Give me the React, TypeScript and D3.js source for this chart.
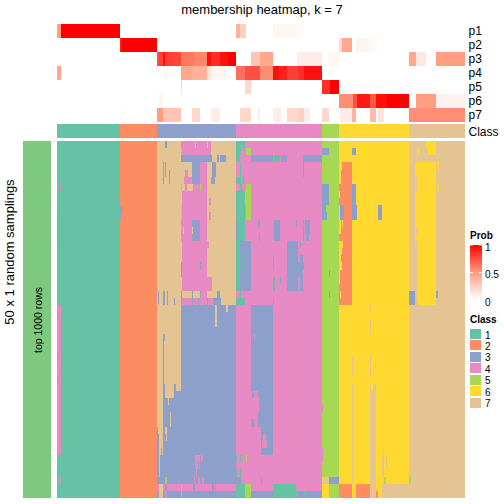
import React from "react";
import * as d3 from "d3";

const classColors = ["#66C2A5", "#FC8D62", "#8DA0CB", "#E78AC3", "#A6D854", "#FFD92F", "#E5C494"];
const classLabels = ["1", "2", "3", "4", "5", "6", "7"];
const probNames = ["p1", "p2", "p3", "p4", "p5", "p6", "p7"];

// [firstColumn, lastColumn, class]
const classBlocks: number[][] = [
  [0, 63, 1], [63, 100, 2], [100, 179, 3], [179, 265, 4], [265, 282, 5], [282, 352, 6], [352, 408, 7],
];

// [firstColumn, lastColumn, probability]
const p1 = [[0, 4, 0.5], [4, 63, 1], [179, 183, 0.4], [183, 189, 0.25], [216, 240, 0.05], [240, 247, 0.02]];
const p2 = [[63, 65, 0.9], [65, 100, 1], [282, 285, 0.2], [285, 295, 0.45], [299, 312, 0.06], [312, 320, 0.03]];
const p3 = [[100, 102, 0.75], [102, 106, 0.8], [106, 108, 0.95], [108, 116, 0.8], [116, 124, 0.78], [124, 137, 0.62], [137, 150, 0.58], [150, 154, 0.95], [154, 163, 0.85], [163, 171, 0.95], [171, 179, 1], [194, 203, 0.3], [203, 216, 0.45], [240, 265, 0.1], [271, 282, 0.04], [352, 359, 0.45], [359, 369, 0.12], [379, 408, 0.5]];
const p4 = [[0, 4, 0.45], [108, 110, 0.05], [124, 135, 0.45], [135, 150, 0.4], [150, 154, 0.15], [154, 169, 0.05], [179, 188, 0.65], [188, 203, 0.75], [203, 216, 0.55], [216, 222, 0.95], [222, 230, 0.9], [230, 241, 0.8], [241, 247, 0.85], [247, 265, 0.95]];
const p5 = [[124, 125, 0.2], [188, 194, 0.2], [265, 273, 0.85], [273, 282, 1]];
const p6 = [[102, 106, 0.05], [282, 296, 0.55], [296, 300, 0.75], [300, 313, 0.92], [313, 319, 0.72], [319, 330, 0.95], [330, 352, 1], [359, 379, 0.5], [379, 408, 0.07]];
const p7 = [[0, 1, 0.02], [63, 65, 0.02], [100, 106, 0.5], [106, 124, 0.3], [135, 143, 0.2], [154, 163, 0.1], [183, 194, 0.2], [201, 203, 0.1], [216, 224, 0.1], [230, 241, 0.2], [241, 247, 0.25], [247, 253, 0.1], [265, 272, 0.2], [283, 295, 0.1], [295, 299, 0.4], [313, 319, 0.35], [321, 327, 0.15], [352, 408, 0.55]];
const probSeries = [p1, p2, p3, p4, p5, p6, p7];

const baseCells = classBlocks.map(([a, b, c]) => [a, b, 0, 50, c]);

// [firstColumn, lastColumn, firstRow, lastRow, class]
const leftCells = [
  [0, 1, 6, 7, 4], [3, 4, 6, 7, 4], [0, 1, 11, 14, 3], [0, 4, 23, 44, 4], [0, 1, 24, 25, 1], [0, 1, 30, 31, 1], [0, 1, 33, 34, 1],
  [0, 1, 47, 48, 4], [2, 4, 47, 48, 4], [63, 65, 9, 10, 3], [63, 64, 10, 11, 3],
];
const class3Cells = [
  [100, 124, 0, 27, 7], [100, 106, 27, 40, 7], [108, 124, 27, 28, 7], [107, 124, 28, 34, 7], [108, 117, 34, 36, 7], [119, 124, 34, 35, 7],
  [111, 112, 36, 37, 7], [113, 114, 38, 40, 7], [101, 106, 40, 41, 7], [108, 110, 40, 41, 7], [102, 106, 41, 43, 7], [109, 110, 41, 42, 7],
  [102, 104, 43, 44, 7], [105, 106, 43, 44, 7], [102, 103, 44, 47, 7], [108, 110, 47, 48, 5],
  [100, 102, 48, 49, 4], [102, 106, 48, 50, 7], [106, 108, 48, 49, 4], [110, 136, 48, 49, 4], [138, 155, 48, 49, 4], [157, 158, 48, 49, 4], [159, 179, 48, 49, 4],
  [108, 110, 49, 50, 4], [124, 125, 48, 50, 5],
  [108, 110, 0, 1, 3], [106, 107, 3, 6, 3], [108, 109, 3, 5, 3], [112, 113, 4, 6, 3], [101, 102, 21, 23, 3], [106, 108, 21, 23, 3], [110, 111, 21, 23, 3], [117, 118, 22, 23, 3],
  [124, 154, 0, 2, 4], [154, 179, 0, 2, 7], [124, 125, 1, 2, 5], [138, 139, 0, 1, 7], [150, 151, 0, 1, 7],
  [155, 160, 2, 3, 7], [162, 163, 2, 3, 7], [169, 179, 2, 3, 7],
  [124, 135, 3, 6, 7], [143, 150, 3, 6, 4], [150, 155, 3, 6, 7], [159, 179, 3, 6, 7], [158, 159, 5, 6, 7], [154, 155, 5, 6, 3],
  [128, 131, 4, 5, 4], [127, 135, 5, 6, 4],
  [124, 125, 6, 7, 5], [125, 128, 6, 7, 7], [128, 130, 6, 7, 4], [130, 136, 6, 7, 7], [136, 143, 6, 7, 4], [143, 144, 6, 7, 5], [144, 150, 6, 7, 4], [150, 179, 6, 7, 7],
  [124, 125, 7, 11, 7], [125, 150, 7, 11, 4], [150, 179, 7, 21, 7], [152, 154, 8, 9, 4], [152, 154, 10, 11, 4], [124, 125, 9, 11, 5],
  [124, 135, 11, 14, 4], [143, 150, 11, 14, 4], [126, 127, 12, 13, 7], [135, 136, 12, 13, 7],
  [124, 125, 14, 21, 7], [125, 150, 14, 21, 4], [150, 152, 14, 15, 4], [150, 155, 19, 21, 4], [124, 125, 17, 18, 3], [124, 125, 18, 19, 3], [143, 144, 17, 18, 3],
  [125, 135, 21, 22, 7], [136, 143, 21, 22, 7], [144, 150, 21, 22, 4], [150, 160, 21, 22, 7], [163, 179, 21, 22, 7], [135, 136, 21, 22, 3],
  [125, 135, 22, 23, 4], [136, 141, 22, 23, 4], [142, 150, 22, 23, 4], [151, 156, 22, 23, 4], [164, 179, 22, 23, 7],
  [158, 160, 23, 26, 7], [169, 171, 23, 24, 7],
  [138, 143, 44, 45, 4], [144, 146, 44, 45, 4], [138, 141, 45, 46, 4], [142, 143, 45, 46, 4], [139, 140, 46, 47, 4], [137, 138, 47, 48, 4], [141, 143, 47, 48, 4], [145, 147, 47, 48, 4],
  [138, 150, 48, 49, 4], [133, 135, 48, 49, 4],
];
const class4Cells = [
  [179, 184, 0, 2, 1], [185, 188, 0, 1, 1], [189, 194, 1, 2, 5],
  [179, 183, 2, 3, 1], [194, 216, 2, 3, 3], [217, 223, 2, 3, 1], [224, 230, 2, 3, 3], [246, 265, 2, 3, 3],
  [183, 184, 3, 6, 1], [179, 183, 5, 6, 1], [185, 187, 5, 6, 1], [246, 247, 3, 5, 3],
  [183, 185, 6, 7, 1], [189, 194, 6, 7, 5], [179, 188, 7, 11, 1], [188, 194, 7, 9, 5], [189, 194, 9, 10, 5], [189, 194, 10, 11, 5],
  [179, 181, 11, 14, 3], [181, 188, 11, 14, 1], [201, 203, 11, 12, 3], [217, 223, 11, 14, 3], [239, 240, 11, 12, 3], [246, 247, 11, 14, 3], [248, 253, 11, 13, 3], [249, 252, 13, 14, 3], [202, 203, 13, 14, 3],
  [179, 183, 14, 21, 1], [183, 194, 14, 21, 3], [230, 241, 14, 21, 3], [243, 246, 16, 21, 3], [241, 247, 17, 18, 3], [241, 243, 18, 19, 3], [243, 244, 14, 15, 3],
  [216, 218, 19, 21, 1], [223, 224, 19, 20, 3], [216, 217, 16, 18, 1], [185, 186, 16, 18, 1], [183, 184, 21, 22, 1],
  [179, 188, 22, 23, 1], [216, 217, 22, 23, 1],
  [194, 216, 23, 35, 3], [197, 198, 27, 28, 4], [195, 197, 35, 36, 3], [201, 216, 35, 36, 3], [202, 216, 36, 38, 3], [201, 216, 38, 39, 3], [194, 197, 39, 40, 3], [201, 216, 39, 40, 3],
  [204, 216, 40, 41, 3], [204, 206, 41, 42, 3], [209, 216, 41, 42, 3], [204, 205, 42, 43, 3], [210, 216, 42, 43, 3], [204, 216, 43, 44, 3],
  [179, 180, 44, 45, 1], [183, 184, 44, 45, 1], [189, 190, 44, 45, 5], [179, 180, 46, 47, 1], [183, 184, 46, 47, 1], [183, 184, 47, 48, 3], [204, 205, 47, 48, 3],
  [179, 183, 47, 48, 3],
  [179, 188, 48, 50, 1], [188, 194, 48, 50, 5], [216, 239, 48, 49, 1], [216, 241, 49, 50, 1], [194, 216, 49, 50, 3], [241, 265, 49, 50, 3], [247, 248, 49, 50, 1],
];
const class5Cells = [
  [265, 272, 1, 2, 3], [263, 265, 2, 3, 3], [265, 272, 6, 9, 3], [265, 269, 9, 10, 3], [265, 270, 10, 11, 3], [272, 273, 18, 19, 3], [272, 273, 21, 22, 3],
  [265, 272, 47, 48, 7], [272, 282, 47, 48, 3], [265, 272, 48, 50, 6], [265, 266, 37, 38, 4], [265, 266, 43, 45, 4],
];
const class6Cells = [
  [285, 295, 3, 4, 2], [284, 295, 4, 6, 2], [282, 295, 6, 7, 2], [283, 295, 7, 8, 2], [282, 295, 8, 9, 2], [283, 287, 9, 11, 3], [287, 295, 9, 11, 2],
  [286, 295, 11, 12, 2], [284, 285, 11, 12, 2], [284, 295, 12, 13, 2], [282, 295, 13, 14, 2], [286, 295, 14, 15, 2], [285, 295, 15, 16, 2], [284, 295, 16, 17, 2], [286, 295, 17, 18, 2], [285, 286, 17, 18, 2],
  [283, 295, 18, 20, 2], [282, 295, 20, 21, 2], [282, 295, 21, 23, 2], [283, 284, 21, 22, 6],
  [295, 299, 1, 2, 3], [295, 299, 6, 9, 3], [295, 300, 9, 11, 3], [321, 325, 9, 11, 3],
  [313, 314, 23, 24, 7], [313, 314, 25, 27, 7], [295, 296, 30, 33, 7], [313, 314, 30, 33, 7], [318, 319, 31, 32, 7], [295, 296, 34, 48, 7], [313, 314, 34, 35, 7], [316, 319, 34, 35, 7], [313, 319, 35, 48, 7],
  [326, 327, 43, 44, 7], [325, 327, 44, 46, 7], [329, 330, 44, 46, 7], [325, 327, 46, 47, 7], [327, 329, 47, 48, 5], [352, 354, 47, 48, 5],
  [282, 295, 48, 50, 2], [299, 313, 48, 50, 2], [313, 319, 48, 50, 7], [319, 321, 49, 50, 2], [325, 352, 48, 50, 7],
];
const class7Cells = [
  [369, 379, 0, 1, 6], [371, 379, 1, 2, 6], [361, 362, 1, 2, 6],
  [358, 379, 3, 5, 6], [360, 379, 5, 7, 6], [358, 379, 7, 14, 6], [360, 379, 14, 21, 6], [359, 360, 12, 13, 7],
  [352, 358, 21, 23, 3], [360, 379, 21, 22, 6], [361, 379, 22, 23, 6], [379, 381, 21, 22, 3],
  [381, 382, 3, 4, 6], [381, 382, 6, 7, 6],
];
const allCells = [...baseCells, ...leftCells, ...class3Cells, ...class4Cells, ...class5Cells, ...class6Cells, ...class7Cells];

const probTicks = [0, 0.5, 1];
const W = 504;
const font = "'Liberation Sans', Arial, sans-serif";

export default function App() {
  const x = d3.scaleLinear().domain([0, 408]).range([57, 465]);
  const y = d3.scaleLinear().domain([0, 50]).range([141, 498]);
  const band = d3.scaleBand<string>().domain(probNames).range([24, 122]);
  const prob = d3.scaleLinear<string>().domain([0, 0.5, 1]).range(["#FFFFFF", "#FF9E81", "#FF0000"]);
  const legendY = d3.scaleLinear().domain([0, 1]).range([300, 245]);
  const swatchY = d3.scaleBand<string>().domain(classLabels).range([329, 409]);
  const gradStops = d3.range(0, 1.01, 0.1);
  return (
    <svg width={W} height={W} style={{ position: "absolute", left: 0, top: 0, background: "#fff" }} fontFamily={font}>
      <defs>
        <linearGradient id="probGrad" x1="0" x2="0" y1="1" y2="0">
          {gradStops.map((s) => <stop key={s} offset={s} stopColor={prob(s)} />)}
        </linearGradient>
      </defs>
      <text x={262} y={14} textAnchor="middle" fontSize={13} fill="#000">membership heatmap, k = 7</text>

      <g shapeRendering="crispEdges">
        {probSeries.map((segs, i) => segs.map(([a, b, v], j) => (
          <rect key={`${i}-${j}`} x={x(a)} width={x(b) - x(a)} y={band(probNames[i])} height={band.bandwidth()} fill={prob(v)} />
        )))}
        {classBlocks.map(([a, b, c]) => (
          <rect key={c} x={x(a)} width={x(b) - x(a)} y={124} height={14} fill={classColors[c - 1]} />
        ))}
        <rect x={23} y={y(0)} width={28} height={y(50) - y(0)} fill="#7FC97F" />
        {allCells.map(([a, b, r0, r1, c], i) => {
          const top = Math.round(y(r0));
          return <rect key={i} x={x(a)} width={x(b) - x(a)} y={top} height={Math.round(y(r1)) - top} fill={classColors[c - 1]} />;
        })}
      </g>

      {probNames.map((p) => (
        <text key={p} x={468.5} y={band(p)! + band.bandwidth() / 2 + 4} fontSize={12} fill="#000">{p}</text>
      ))}
      <text x={468.5} y={136} fontSize={12} fill="#000">Class</text>

      <text transform="translate(14,252) rotate(-90)" textAnchor="middle" fontSize={13} fill="#000">50 x 1 random samplings</text>
      <text transform="translate(41.5,320) rotate(-90)" textAnchor="middle" fontSize={10.5} fill="#000">top 1000 rows</text>

      <text x={470} y={238.5} fontSize={10} fontWeight="bold" fill="#000">Prob</text>
      <rect x={470} y={245} width={12} height={55} fill="url(#probGrad)" />
      {probTicks.map((t) => (
        <g key={t}>
          {t > 0 && <line x1={470} x2={473} y1={legendY(t)} y2={legendY(t)} stroke="#fff" />}
          {t > 0 && <line x1={479} x2={482} y1={legendY(t)} y2={legendY(t)} stroke="#fff" />}
          <text x={485} y={legendY(t) + (t === 1 ? 5.5 : t === 0 ? 6 : 5.5)} fontSize={10} fill="#000">{t}</text>
        </g>
      ))}
      <text x={470} y={323} fontSize={10} fontWeight="bold" fill="#000">Class</text>
      {classLabels.map((c, i) => (
        <g key={c}>
          <rect x={470} y={swatchY(c)} width={11} height={10} fill={classColors[i]} shapeRendering="crispEdges" />
          <text x={485} y={swatchY(c)! + 9.5} fontSize={10} fill="#000">{c}</text>
        </g>
      ))}
    </svg>
  );
}
